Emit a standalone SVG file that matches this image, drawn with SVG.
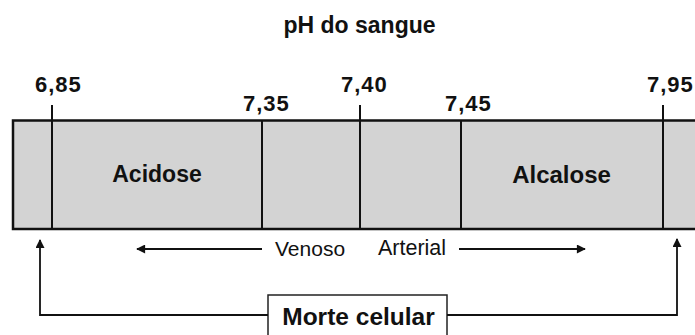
<svg xmlns="http://www.w3.org/2000/svg" width="695" height="335" viewBox="0 0 695 335">
<style>
.t{font-family:"Liberation Sans",Arial,sans-serif;fill:#111}
.b{font-weight:bold}
.num{font-size:22px;font-weight:bold;letter-spacing:1px}
.tick{stroke:#111;stroke-width:2}
.con{stroke:#111;stroke-width:1.8;fill:none}
</style>
<defs>
<marker id="ah" viewBox="0 0 10 10" refX="9" refY="5" markerUnits="userSpaceOnUse" markerWidth="10" markerHeight="9" orient="auto">
<path d="M0,0 L10,5 L0,10 z" fill="#111"/>
</marker>
</defs>
<rect width="695" height="335" fill="#fff"/>
<text class="t b" x="359.5" y="33" font-size="23" text-anchor="middle">pH do sangue</text>
<g id="bar">
<rect x="13" y="120.5" width="690" height="108.5" fill="#d3d3d3" stroke="#111" stroke-width="2.5"/>
<line class="tick" x1="52" y1="105" x2="52" y2="229"/>
<line class="tick" x1="262" y1="120" x2="262" y2="229"/>
<line class="tick" x1="360" y1="105" x2="360" y2="229"/>
<line class="tick" x1="461" y1="120" x2="461" y2="229"/>
<line class="tick" x1="663" y1="105" x2="663" y2="229"/>
</g>
<g id="labels">
<text class="t num" x="35" y="92">6,85</text>
<text class="t num" x="243" y="111">7,35</text>
<text class="t num" x="341" y="92">7,40</text>
<text class="t num" x="445" y="111">7,45</text>
<text class="t num" x="647" y="92">7,95</text>
</g>
<g id="acidose"><text class="t b" x="157" y="182" font-size="23" text-anchor="middle">Acidose</text></g>
<g id="alcalose"><text class="t b" x="561.5" y="183" font-size="24" text-anchor="middle">Alcalose</text></g>
<g id="venoso"><text class="t" x="275" y="256" font-size="21">Venoso</text></g>
<g id="arterial"><text class="t" x="378" y="255" font-size="21.5">Arterial</text></g>
<g id="morte">
<rect x="268" y="295" width="179" height="50" fill="#fff" stroke="#222" stroke-width="1.5"/>
<text class="t b" x="358.5" y="325" font-size="24.5" text-anchor="middle">Morte celular</text>
</g>
<g id="connectors">
<line class="con" x1="262" y1="249" x2="137" y2="249" marker-end="url(#ah)"/>
<line class="con" x1="459" y1="249" x2="585" y2="249" marker-end="url(#ah)"/>
<polyline class="con" points="268,315 40,315 40,240" marker-end="url(#ah)"/>
<polyline class="con" points="447,315 677,315 677,239" marker-end="url(#ah)"/>
</g>
</svg>
